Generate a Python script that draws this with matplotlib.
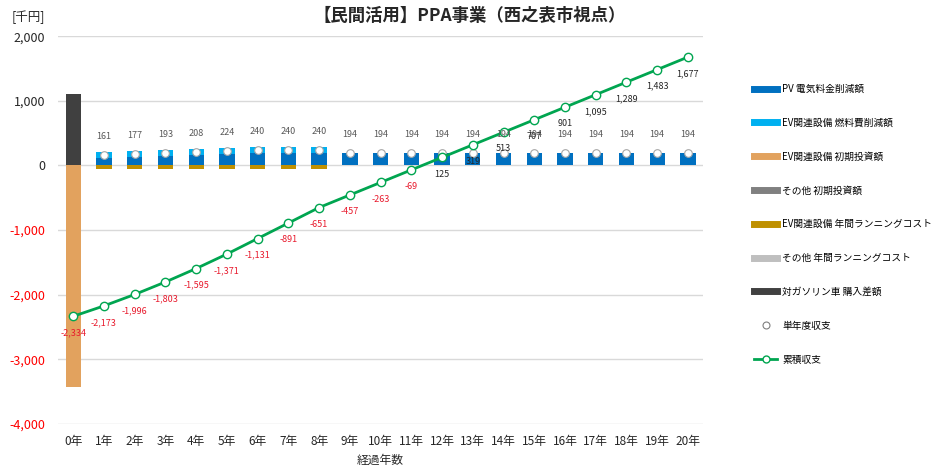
import numpy as np
import matplotlib
matplotlib.use("Agg")
import matplotlib.pyplot as plt
from matplotlib.lines import Line2D
from matplotlib.ticker import FuncFormatter

plt.rcParams["font.family"] = ["Noto Sans CJK JP", "DejaVu Sans"]

# ─── Data (千円) ─────────────────────────────────────────────────────
years = [f"{i}年" for i in range(21)]

pv_saving = [0, 115, 130, 145, 160, 175, 190, 190, 190] + [194] * 12
ev_fuel_saving = [0, 96, 97, 98, 98, 99, 100, 100, 100] + [0] * 12
ev_initial = [-3434] + [0] * 20
other_initial = [0] * 21
ev_running = [0] + [-50] * 8 + [0] * 12
other_running = [0] * 21
gasoline_diff = [1100] + [0] * 20

single_year = [-2334, 161, 177, 193, 208, 224, 240, 240, 240] + [194] * 12
cumulative = [-2334, -2173, -1996, -1803, -1595, -1371, -1131, -891, -651,
              -457, -263, -69, 125, 319, 513, 707, 901, 1095, 1289, 1483, 1677]

series = [
    ("PV 電気料金削減額", pv_saving, "#0070c0"),
    ("EV関連設備 燃料費削減額", ev_fuel_saving, "#00b0f0"),
    ("EV関連設備 初期投資額", ev_initial, "#e2a25e"),
    ("その他 初期投資額", other_initial, "#808080"),
    ("EV関連設備 年間ランニングコスト", ev_running, "#bf9000"),
    ("その他 年間ランニングコスト", other_running, "#bfbfbf"),
    ("対ガソリン車 購入差額", gasoline_diff, "#404040"),
]

# ─── Plot ────────────────────────────────────────────────────────────
fig = plt.figure(figsize=(9.34, 4.70), dpi=100)
ax = fig.add_axes([0.062, 0.098, 0.691, 0.825])

x = np.arange(len(years))
pos_base = np.zeros(len(x))
neg_base = np.zeros(len(x))
handles = []
for name, vals, color in series:
    v = np.array(vals, dtype=float)
    bottom = np.where(v >= 0, pos_base, neg_base)
    ax.bar(x, v, 0.5, bottom=bottom, color=color, zorder=2)
    pos_base += np.where(v > 0, v, 0)
    neg_base += np.where(v < 0, v, 0)
    handles.append(Line2D([], [], color=color, lw=5, label=name))

# single-year balance markers
ax.plot(x, single_year, ls="none", marker="o", ms=5.5, mfc="white",
        mec="#a6a6a6", mew=0.8, zorder=4)
for xi, v in zip(x[1:], single_year[1:]):
    ax.annotate(f"{v:,}", (xi, v), xytext=(0, 13), textcoords="offset points",
                ha="center", va="center", fontsize=6.5, color="#595959", zorder=6)

# cumulative balance line
ax.plot(x, cumulative, color="#00a550", lw=2, marker="o", ms=6,
        mfc="white", mec="#00a550", mew=1, zorder=5)
for xi, v in zip(x, cumulative):
    ax.annotate(f"{v:,}", (xi, v), xytext=(0, -12), textcoords="offset points",
                ha="center", va="center", fontsize=6.5,
                color="#e8192c" if v < 0 else "#262626", zorder=6)

handles.append(Line2D([], [], ls="none", marker="o", ms=5, mfc="white",
                      mec="#7f7f7f", mew=0.8, label="単年度収支"))
handles.append(Line2D([], [], color="#00a550", lw=2, marker="o", ms=5,
                      mfc="white", mec="#00a550", label="累積収支"))

ax.set_xlim(-0.5, 20.5)
ax.set_ylim(-4000, 2000)
ax.set_yticks(np.arange(-4000, 2001, 1000))
ax.yaxis.set_major_formatter(FuncFormatter(lambda v, p: f"{int(v):,}"))
ax.set_xticks(x)
ax.set_xticklabels(years)
ax.tick_params(axis="both", length=0, labelsize=8.5, colors="#262626")
ax.tick_params(axis="y", pad=9, labelsize=9)
ax.tick_params(axis="x", pad=8)
fig.canvas.draw()
for lbl, val in zip(ax.get_yticklabels(), ax.get_yticks()):
    lbl.set_color("#ff0000" if val < 0 else "#262626")

ax.grid(axis="y", color="#d9d9d9", lw=1, zorder=0)
for s in ax.spines.values():
    s.set_visible(False)
ax.set_xlabel("経過年数", fontsize=8.5, color="#262626", labelpad=4)

fig.text(0.503, 0.965, "【民間活用】PPA事業（西之表市視点）", ha="center", va="center",
         fontsize=12.5, fontweight="bold", color="#262626")
fig.text(0.012, 0.963, "[千円]", ha="left", va="center", fontsize=9, color="#262626")

fig.legend(handles=handles, loc="upper left", bbox_to_anchor=(0.798, 0.84),
           frameon=False, fontsize=7, labelspacing=2.45, handlelength=2.4,
           handletextpad=0.5)

fig.savefig("out.png", dpi=100)
